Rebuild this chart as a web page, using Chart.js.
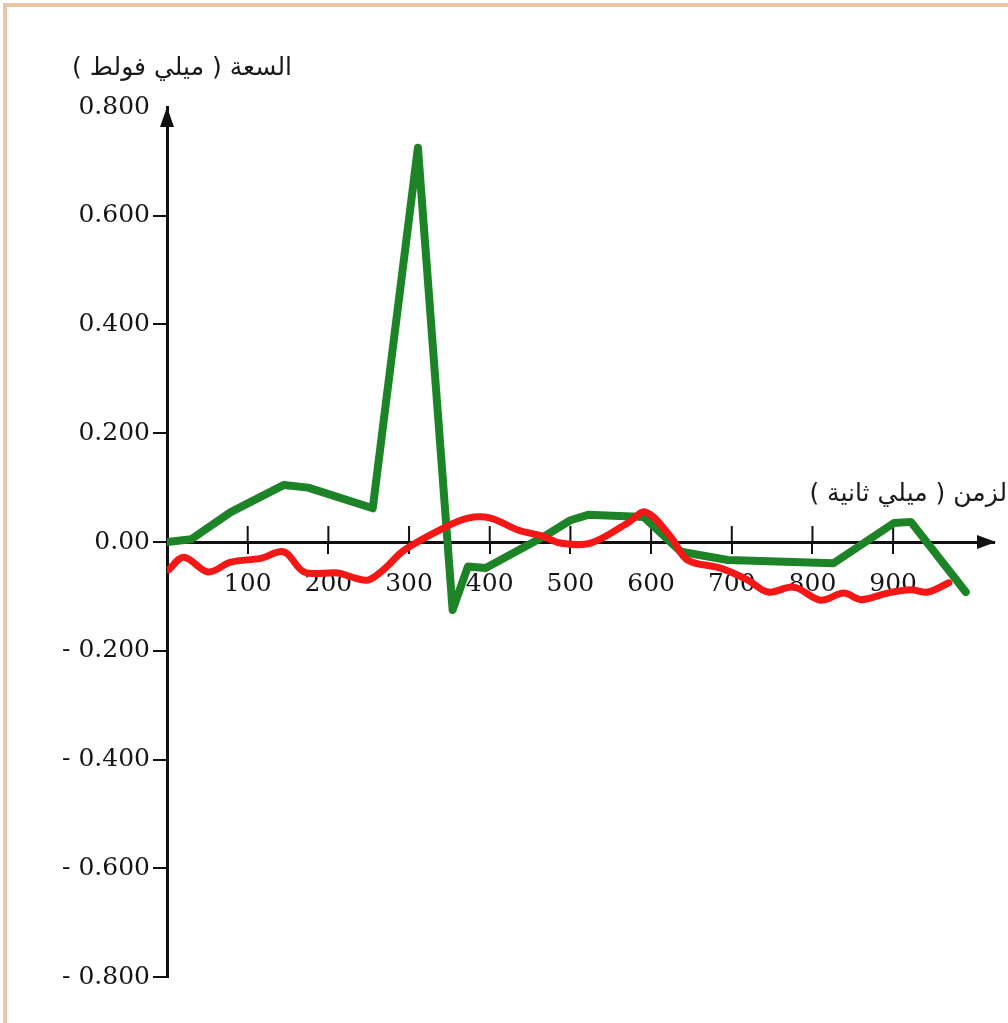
<!DOCTYPE html>
<html>
<head>
<meta charset="utf-8">
<script src="https://cdn.jsdelivr.net/npm/chart.js@4/dist/chart.umd.min.js"></script>
<style>
  html, body { margin: 0; padding: 0; background: #ffffff; }
  #wrap { position: relative; width: 1008px; height: 1023px; }
</style>
</head>
<body>
<div id="wrap"><canvas id="c"></canvas></div>
<script>
// ---- data ----
const greenX = [0, 30, 79, 145, 175, 255, 311, 354, 373, 395, 467, 500, 522, 591, 637, 695, 826, 901, 922, 990];
const greenY = [0.000, 0.005, 0.055, 0.105, 0.100, 0.062, 0.725, -0.125, -0.045, -0.048, 0.010, 0.040, 0.050, 0.046, -0.018, -0.033, -0.039, 0.035, 0.037, -0.092];

const redX = [2, 21, 51, 79, 116, 145, 170, 212, 228, 249, 269, 294, 343, 373, 401, 435, 467, 488, 525, 571, 593, 624, 645, 686, 720, 745, 777, 810, 839, 860, 893, 922, 943, 969];
const redY = [-0.051, -0.028, -0.055, -0.037, -0.030, -0.018, -0.055, -0.057, -0.064, -0.070, -0.050, -0.015, 0.026, 0.044, 0.044, 0.022, 0.010, -0.002, -0.002, 0.035, 0.055, 0.010, -0.033, -0.048, -0.070, -0.092, -0.083, -0.107, -0.094, -0.106, -0.094, -0.088, -0.092, -0.075];

const xTicks = [100, 200, 300, 400, 500, 600, 700, 800, 900];
const yTicks = [-0.8, -0.6, -0.4, -0.2, 0, 0.2, 0.4, 0.6, 0.8];
const xRange = [0, 1025];
const yRange = [-0.8, 0.8];

const yTitle = 'السعة ( ميلي فولط )';
const xTitle = 'الزمن ( ميلي ثانية )';

function fmtY(v) {
  const r = Math.round(v * 1000) / 1000;
  if (r === 0) return '0.00';
  if (r < 0) return '- ' + Math.abs(r).toFixed(3);
  return r.toFixed(3);
}

const pts = (xs, ys) => xs.map((x, i) => ({ x: x, y: ys[i] }));

const axisPlugin = {
  id: 'axisDeco',
  beforeDatasetsDraw(chart) {
    const ctx = chart.ctx;
    const xs = chart.scales.x, ys = chart.scales.y;
    const x0 = xs.getPixelForValue(0);
    const y0 = ys.getPixelForValue(0);
    ctx.save();
    // frame (left + top)
    ctx.strokeStyle = '#e8c6a6';
    ctx.lineWidth = 4;
    ctx.beginPath();
    ctx.moveTo(5, 1023); ctx.lineTo(5, 5); ctx.lineTo(1008, 5);
    ctx.stroke();
    // upper parts of x tick marks
    ctx.strokeStyle = '#111';
    ctx.lineWidth = 2;
    xTicks.forEach(v => {
      const px = xs.getPixelForValue(v);
      ctx.beginPath();
      ctx.moveTo(px, y0); ctx.lineTo(px, y0 - 16);
      ctx.stroke();
    });
    // arrow heads
    ctx.fillStyle = '#111';
    const xEnd = xs.getPixelForValue(xRange[1]);
    ctx.beginPath();
    ctx.moveTo(xEnd + 2, y0); ctx.lineTo(xEnd - 17, y0 - 7); ctx.lineTo(xEnd - 17, y0 + 7);
    ctx.closePath(); ctx.fill();
    const yTop = ys.getPixelForValue(yRange[1]);
    ctx.beginPath();
    ctx.moveTo(x0, yTop); ctx.lineTo(x0 - 7, yTop + 20); ctx.lineTo(x0 + 7, yTop + 20);
    ctx.closePath(); ctx.fill();
    // axis titles
    ctx.fillStyle = '#1a1a1a';
    ctx.font = '25px "DejaVu Sans"';
    ctx.direction = 'rtl';
    ctx.textAlign = 'right';
    ctx.textBaseline = 'middle';
    ctx.fillText(yTitle, 292, 68);
    ctx.fillText(xTitle, 1014, 494);
    ctx.restore();
  }
};

const serif = { family: '"DejaVu Serif", "Liberation Serif", serif', size: 25 };

new Chart(document.getElementById('c'), {
  type: 'line',
  data: {
    datasets: [
      {
        data: pts(greenX, greenY),
        borderColor: 'rgb(28,132,38)',
        borderWidth: 8,
        pointRadius: 0,
        tension: 0,
        borderJoinStyle: 'round',
        borderCapStyle: 'round',
        order: 2
      },
      {
        data: pts(redX, redY),
        borderColor: 'rgb(245,22,22)',
        borderWidth: 7,
        pointRadius: 0,
        tension: 0.35,
        borderJoinStyle: 'round',
        borderCapStyle: 'round',
        order: 1
      }
    ]
  },
  options: {
    responsive: true,
    maintainAspectRatio: false,
    animation: false,
    layout: { padding: { left: 7, top: 107, right: 14, bottom: 46 } },
    plugins: { legend: { display: false }, tooltip: { enabled: false } },
    scales: {
      x: {
        type: 'linear',
        position: { y: 0 },
        min: xRange[0],
        max: xRange[1],
        afterBuildTicks: s => { s.ticks = xTicks.map(v => ({ value: v })); },
        afterFit: s => { s.height = 0; },
        grid: { drawOnChartArea: false, drawTicks: true, tickLength: 10, color: '#111', lineWidth: 2 },
        border: { display: true, color: '#111', width: 3 },
        ticks: { font: serif, color: '#151515', padding: 17, maxRotation: 0, autoSkip: false }
      },
      y: {
        type: 'linear',
        position: 'left',
        min: yRange[0],
        max: yRange[1],
        afterBuildTicks: s => { s.ticks = yTicks.map(v => ({ value: v })); },
        afterFit: s => { s.width = 160; },
        grid: {
          drawOnChartArea: false, drawTicks: true, tickLength: 14, lineWidth: 2,
          color: c => (c.tick && Math.abs(c.tick.value - yRange[1]) < 1e-9) ? 'rgba(0,0,0,0)' : '#111'
        },
        border: { display: true, color: '#111', width: 3 },
        ticks: { font: serif, color: '#151515', padding: 3, autoSkip: false, callback: v => fmtY(v) }
      }
    }
  },
  plugins: [axisPlugin]
});
</script>
</body>
</html>
